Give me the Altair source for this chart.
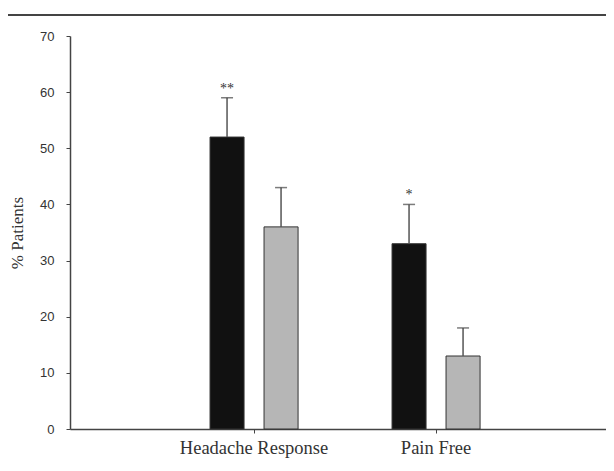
import altair as alt
import pandas as pd

categories = ["Headache Response", "Pain Free"]
groups = ["Active", "Placebo"]
cat_col = ["Headache Response", "Headache Response", "Pain Free", "Pain Free"]
grp_col = ["Active", "Placebo", "Active", "Placebo"]
values = [52, 36, 33, 13]
upper = [59, 43, 40, 18]
stars = ["**", "", "*", ""]
y_ticks = [0, 10, 20, 30, 40, 50, 60, 70]

df = pd.DataFrame({"category": cat_col, "group": grp_col, "value": values,
                   "upper": upper, "star": stars})

x_enc = alt.X("category:N",
              scale=alt.Scale(domain=categories, paddingInner=0, paddingOuter=0.4725, align=0.541),
              axis=alt.Axis(title=None, labelAngle=0, labelFont="Liberation Serif",
                            labelFontSize=18.5, labelColor="#333333", tickSize=4,
                            tickColor="#444444", labelPadding=5, domainColor="#444444",
                            domainWidth=1.5))
xo_enc = alt.XOffset("group:N", scale=alt.Scale(domain=groups, paddingInner=0.37, paddingOuter=0.87))
y_scale = alt.Scale(domain=[0, 70], nice=False)

base = alt.Chart(df)

bars = base.mark_bar(stroke="#333333", strokeWidth=1).encode(
    x=x_enc,
    xOffset=xo_enc,
    y=alt.Y("value:Q", scale=y_scale,
            axis=alt.Axis(title="% Patients", values=y_ticks, grid=False,
                          labelFont="Liberation Sans", labelFontSize=13, labelColor="#333333",
                          tickSize=4, tickColor="#444444", labelPadding=12,
                          domainColor="#444444", domainWidth=1.5,
                          titleFont="Liberation Serif", titleFontSize=17, titleFontWeight="normal",
                          titleColor="#333333", titlePadding=13)),
    color=alt.Color("group:N", scale=alt.Scale(domain=groups, range=["#111111", "#b6b6b6"]), legend=None),
)

err = base.mark_rule(color="#555555", strokeWidth=1.5).encode(
    x=x_enc, xOffset=xo_enc, y=alt.Y("value:Q", scale=y_scale), y2="upper:Q")

caps = base.mark_tick(color="#444444", thickness=1.5, size=12, orient="horizontal").encode(
    x=x_enc, xOffset=xo_enc, y=alt.Y("upper:Q", scale=y_scale))

txt = base.mark_text(font="Liberation Serif", fontSize=14, color="#333333", dy=-9).encode(
    x=x_enc, xOffset=xo_enc, y=alt.Y("upper:Q", scale=y_scale), text="star:N")

top_rule = alt.Chart(pd.DataFrame({"k": [0]})).mark_rule(color="#444444", strokeWidth=2).encode(
    x=alt.value(-62), x2=alt.value(544), y=alt.value(-21), y2=alt.value(-21))

chart = alt.layer(bars, err, caps, txt, top_rule).properties(
    width=536, height=393,
    autosize=alt.AutoSizeParams(type="none"),
    padding={"left": 62, "top": 28, "right": 0, "bottom": 30},
).configure_view(stroke=None)

chart.save("out.html", embed_options={"renderer": "svg", "actions": False})
